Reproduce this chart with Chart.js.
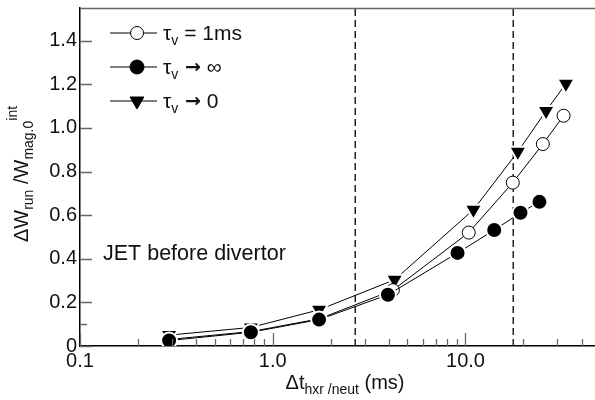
<!DOCTYPE html>
<html>
<head>
<meta charset="utf-8">
<script src="https://cdn.jsdelivr.net/npm/chart.js@4.4.0/dist/chart.umd.min.js"></script>
<style>
  body { margin: 0; background: #fff; }
  #wrap { width: 595px; height: 400px; }
</style>
</head>
<body>
<div id="wrap"><canvas id="runaway"></canvas></div>
<script>
// tau_v = 1ms  (open circles)
var dtOpen = [0.29, 0.77, 1.75, 4.2, 10.4, 17.6, 25.2, 32.3];
var wOpen  = [0.03, 0.066, 0.125, 0.256, 0.52, 0.749, 0.926, 1.056];

// tau_v -> infinity  (filled circles)
var dtInf = [0.29, 0.77, 1.74, 3.96, 9.1, 14.1, 19.3, 24.2];
var wInf  = [0.025, 0.063, 0.121, 0.235, 0.427, 0.532, 0.611, 0.661];

// tau_v -> 0  (down triangles)
var dtZero = [0.29, 0.77, 1.74, 4.29, 11.0, 18.7, 26.2, 33.2];
var wZero  = [0.05, 0.085, 0.166, 0.304, 0.625, 0.891, 1.078, 1.203];

// vertical dashed lines
var dtMarks = [2.68, 17.7];

// axes
var xMin = 0.1, xMax = 47;
var yMin = 0, yMax = 1.55;
var xMajor = [0.1, 1, 10];
var xMinor = [0.2, 0.3, 0.4, 0.5, 0.6, 0.7, 0.8, 0.9, 2, 3, 4, 5, 6, 7, 8, 9, 20, 30, 40];
var yMajor = [0, 0.2, 0.4, 0.6, 0.8, 1.0, 1.2, 1.4];
var yMinor = [0.1];

var FONT = '"Liberation Sans", Arial, Helvetica, sans-serif';

function pts(xs, ys) {
    return xs.map(function (x, i) { return {x: x, y: ys[i]}; });
}

function fontOf(p) {
    return (p.bold ? 'bold ' : '') + p.size + 'px ' + (p.family || FONT);
}

// draws a run of text pieces (subscripts / superscripts) left to right
function richText(ctx, parts, x, y, align) {
    var total = 0;
    parts.forEach(function (p) {
        ctx.font = fontOf(p);
        p.w = ctx.measureText(p.text).width;
        total += p.w;
    });
    var cx = align === 'center' ? x - total / 2 : x;
    parts.forEach(function (p) {
        ctx.font = fontOf(p);
        ctx.fillText(p.text, cx, y + (p.dy || 0));
        cx += p.w;
    });
}

// filled markers get a thin white rim so the joining lines stop short of them
var series = [
    {label: 'open', xs: dtOpen, ys: wOpen, style: 'circle', r: 6.5, fill: '#fff', edge: '#000', edgeW: 1, order: 1, legendR: 6.5},
    {label: 'inf', xs: dtInf, ys: wInf, style: 'circle', r: 8, fill: '#000', edge: '#fff', edgeW: 2, order: 0, legendR: 7},
    {label: 'zero', xs: dtZero, ys: wZero, style: 'triangle', r: 10, fill: '#000', edge: '#fff', edgeW: 2, order: 2, legendR: 8}
];

var datasets = series.map(function (s) {
    return {
        label: s.label,
        data: pts(s.xs, s.ys),
        order: s.order,
        showLine: true,
        borderColor: '#000',
        borderWidth: 1,
        pointStyle: s.style,
        pointRotation: s.style === 'triangle' ? 180 : 0,
        pointRadius: s.r,
        pointBackgroundColor: s.fill,
        pointBorderColor: s.edge,
        pointBorderWidth: s.edgeW
    };
});

dtMarks.forEach(function (t) {
    datasets.push({
        label: 'mark',
        data: [{x: t, y: yMin}, {x: t, y: yMax}],
        order: 3,
        showLine: true,
        borderColor: '#222',
        borderWidth: 1.5,
        borderDash: [7, 4],
        pointRadius: 0
    });
});

// inward tick marks, top frame, titles, legend and note
var decorations = {
    id: 'decorations',
    afterDraw: function (chart) {
        var ctx = chart.ctx, a = chart.chartArea;
        var xs = chart.scales.x, ys = chart.scales.y;
        ctx.save();

        ctx.strokeStyle = '#666';
        ctx.lineWidth = 1.3;
        ctx.beginPath();
        xMajor.forEach(function (v) {
            var px = Math.round(xs.getPixelForValue(v)) + 0.5;
            ctx.moveTo(px, a.bottom); ctx.lineTo(px, a.bottom - 13);
        });
        xMinor.forEach(function (v) {
            var px = Math.round(xs.getPixelForValue(v)) + 0.5;
            ctx.moveTo(px, a.bottom); ctx.lineTo(px, a.bottom - 7);
        });
        yMajor.forEach(function (v) {
            var py = Math.round(ys.getPixelForValue(v)) + 0.5;
            ctx.moveTo(a.left, py); ctx.lineTo(a.left + 12, py);
        });
        yMinor.forEach(function (v) {
            var py = Math.round(ys.getPixelForValue(v)) + 0.5;
            ctx.moveTo(a.left, py); ctx.lineTo(a.left + 7, py);
        });
        // top frame line
        ctx.moveTo(a.left, a.top + 0.5); ctx.lineTo(a.right, a.top + 0.5);
        ctx.stroke();

        ctx.fillStyle = '#111';
        ctx.textBaseline = 'alphabetic';

        // x title
        richText(ctx, [
            {text: '\u0394t', size: 20},
            {text: 'hxr /neut', size: 14, dy: 5},
            {text: ' (ms)', size: 20}
        ], 345, 389, 'center');

        // y title
        ctx.save();
        ctx.translate(28, 174);
        ctx.rotate(-Math.PI / 2);
        richText(ctx, [
            {text: '\u0394W', size: 20},
            {text: 'run', size: 14, dy: 5},
            {text: ' /W', size: 20},
            {text: 'mag.0', size: 14, dy: 5},
            {text: 'int', size: 14, dy: -11}
        ], 0, 0, 'center');
        ctx.restore();

        // note
        ctx.font = '21.5px ' + FONT;
        ctx.fillText('JET before divertor', a.left + 23, 260);

        // legend
        var arrow = {text: ' \u2192', size: 19, bold: true, family: '"DejaVu Sans", sans-serif', dy: -1};
        var rows = [
            {s: series[0], tail: [{text: ' = 1ms', size: 21}]},
            {s: series[1], tail: [arrow, {text: ' \u221E', size: 21}]},
            {s: series[2], tail: [arrow, {text: ' 0', size: 21}]}
        ];
        rows.forEach(function (row, i) {
            var y = a.top + 25 + i * 34;
            var lx = a.left + 30, mx = a.left + 57;
            var r = row.s.legendR;
            ctx.strokeStyle = '#000';
            ctx.lineWidth = 1;
            ctx.beginPath();
            ctx.moveTo(lx, y); ctx.lineTo(lx + 47, y);
            ctx.stroke();
            ctx.beginPath();
            if (row.s.style === 'circle') {
                ctx.arc(mx, y, r, 0, Math.PI * 2);
            } else {
                ctx.moveTo(mx, y + r);
                ctx.lineTo(mx - r * 0.866, y - r / 2);
                ctx.lineTo(mx + r * 0.866, y - r / 2);
                ctx.closePath();
            }
            ctx.fillStyle = row.s.fill;
            ctx.fill();
            ctx.stroke();
            ctx.fillStyle = '#111';
            richText(ctx, [
                {text: '\u03C4', size: 21},
                {text: 'v', size: 14, dy: 5}
            ].concat(row.tail), lx + 53, y + 7, 'left');
        });

        ctx.restore();
    }
};

var chart = new Chart(document.getElementById('runaway'), {
    type: 'scatter',
    data: {datasets: datasets},
    options: {
        responsive: true,
        maintainAspectRatio: false,
        animation: false,
        layout: {autoPadding: false, padding: {top: 8, right: 0, left: 0, bottom: 0}},
        elements: {line: {tension: 0}},
        plugins: {legend: {display: false}, tooltip: {enabled: false}},
        scales: {
            x: {
                type: 'logarithmic',
                min: xMin,
                max: xMax,
                afterBuildTicks: function (s) {
                    s.ticks = xMajor.map(function (v) { return {value: v}; });
                },
                afterFit: function (s) {
                    s.height = 54;
                    s.paddingLeft = 0; s.paddingRight = 0;
                },
                ticks: {
                    autoSkip: false,
                    maxRotation: 0,
                    padding: 3,
                    color: '#111',
                    font: {family: FONT, size: 20},
                    callback: function (v) { return Number(v).toFixed(1); }
                },
                grid: {drawOnChartArea: false, drawTicks: false},
                border: {color: '#000', width: 1.5}
            },
            y: {
                min: yMin,
                max: yMax,
                afterBuildTicks: function (s) {
                    s.ticks = yMajor.map(function (v) { return {value: v}; });
                },
                afterFit: function (s) {
                    s.width = 80;
                    s.paddingTop = 0; s.paddingBottom = 0;
                },
                ticks: {
                    padding: 3,
                    color: '#111',
                    font: {family: FONT, size: 20},
                    callback: function (v) { return v === 0 ? '0' : Number(v).toFixed(1); }
                },
                grid: {drawOnChartArea: false, drawTicks: false},
                border: {color: '#000', width: 1.5}
            }
        }
    },
    plugins: [decorations]
});
</script>
</body>
</html>
